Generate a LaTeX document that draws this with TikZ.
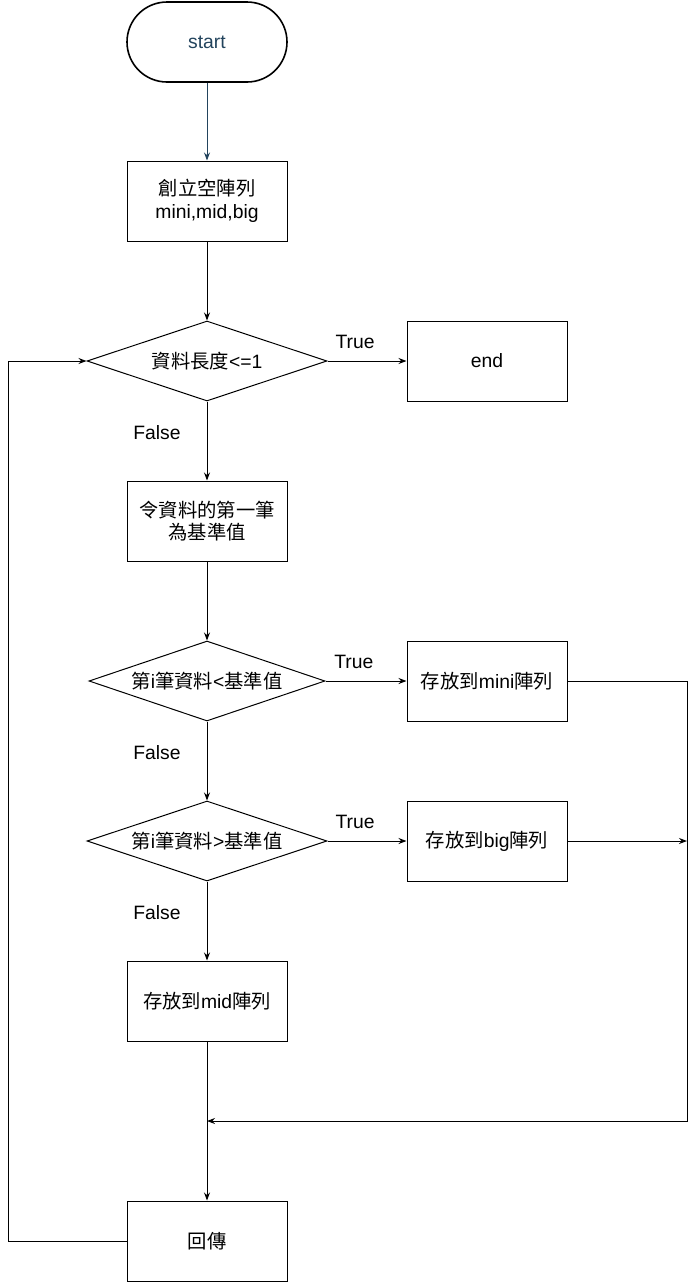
\documentclass[tikz,border=0pt]{standalone}
\usepackage{fontspec}
\setmainfont{Liberation Sans}
\newfontfamily\cjk{Noto Sans CJK TC}
\usetikzlibrary{shapes.geometric,arrows.meta}
\definecolor{startblue}{HTML}{23445D}

\begin{document}
\begin{tikzpicture}[x=0.75pt,y=0.75pt,line width=0.75pt,>={Stealth[length=6pt,width=4.5pt]},font=\fontsize{14.5}{17}\selectfont,
term/.style={draw,line width=1.2pt,rounded corners=30pt,minimum width=120pt,minimum height=60pt,text=startblue},
proc/.style={draw,minimum width=120pt,minimum height=60pt,align=center},
cond/.style={draw,diamond,aspect=3,minimum width=180pt,minimum height=60pt,inner sep=0pt},
lab/.style={inner sep=0pt}]
\useasboundingbox (0,0) rectangle (697,-1282);
\node[term] (s) at (207,-42) {start};
\node[proc] (p1) at (207,-201) {{\cjk 創立空陣列}\\mini,mid,big};
\node[cond] (d1) at (207,-361) {{\cjk 資料長度}<=1};
\node[proc] (e) at (487,-361) {end};
\node[proc] (p2) at (207,-521) {{\cjk 令資料的第一筆}\\{\cjk 為基準值}};
\node[cond,minimum width=177pt] (d2) at (207,-681) {{\cjk 第}i{\cjk 筆資料}<{\cjk 基準值}};
\node[proc] (mini) at (487,-681) {{\cjk 存放到}mini{\cjk 陣列}};
\node[cond] (d3) at (207,-841) {{\cjk 第}i{\cjk 筆資料}>{\cjk 基準值}};
\node[proc] (big) at (487,-841) {{\cjk 存放到}big{\cjk 陣列}};
\node[proc] (mid) at (207,-1001) {{\cjk 存放到}mid{\cjk 陣列}};
\node[proc] (ret) at (207,-1241) {\cjk 回傳};
\coordinate (r1) at (687,-681);
\coordinate (r2) at (687,-1121);
\coordinate (m) at (207,-1121);
\coordinate (l1) at (8,-1241);
\coordinate (l2) at (8,-361);
\draw[->,startblue] (s) -- (p1);
\draw[->] (p1) -- (d1);
\draw[->] (d1) -- node[lab,pos=0.35,yshift=14pt]{True} (e);
\draw[->] (d1) -- node[lab,pos=0.39,xshift=-37.5pt]{False} (p2);
\draw[->] (p2) -- (d2);
\draw[->] (d2) -- node[lab,pos=0.35,yshift=14pt]{True} (mini);
\draw[->] (d2) -- node[lab,pos=0.39,xshift=-37.5pt]{False} (d3);
\draw[->] (d3) -- node[lab,pos=0.35,yshift=14pt]{True} (big);
\draw[->] (d3) -- node[lab,pos=0.39,xshift=-37.5pt]{False} (mid);
\draw[->] (mini) -- (r1) -- (r2) -- (m);
\draw[->] (big) -- (big -| r1);
\draw[->] (mid) -- (ret);
\draw[->] (ret) -- (l1) -- (l2) -- (d1);
\end{tikzpicture}
\end{document}
